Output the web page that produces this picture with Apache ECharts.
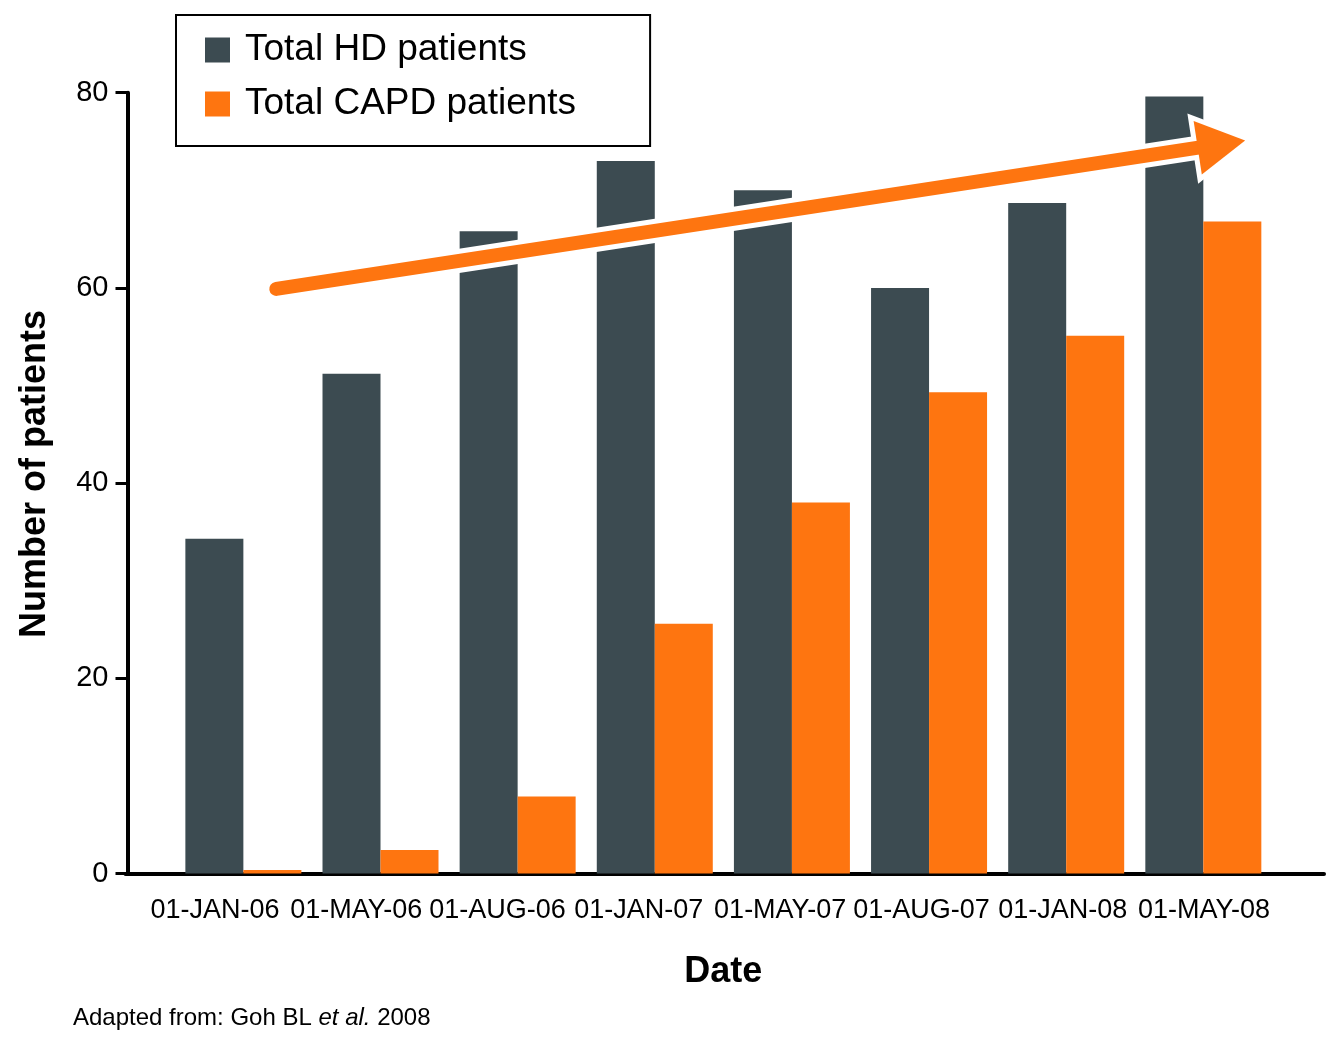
<!DOCTYPE html>
<html>
<head>
<meta charset="utf-8">
<script src="https://cdn.jsdelivr.net/npm/echarts@6/dist/echarts.min.js"></script>
<style>
html,body{margin:0;padding:0;background:#fff;}
#chart{width:1329px;height:1039px;}
</style>
</head>
<body>
<div id="chart"></div>
<script>
const categories = ['01-JAN-06','01-MAY-06','01-AUG-06','01-JAN-07','01-MAY-07','01-AUG-07','01-JAN-08','01-MAY-08'];
const hdPatients   = [34.3, 51.2, 65.8, 73.0, 70.0, 60.0, 68.7, 79.6];
const capdPatients = [0.35, 2.4, 7.9, 25.6, 38.0, 49.3, 55.1, 66.8];
const yTicks = [0, 20, 40, 60, 80];
// trend arrow annotation: [startIndex, startValue, endIndex, endValue]
const trendArrow = [[0.24, 59.9, 7.305, 75.1]];

const FONT = "'Liberation Sans', Arial, sans-serif";
const DARK = '#3c4b51';
const ORANGE = '#fe7510';

const chart = echarts.init(document.getElementById('chart'), null, {renderer: 'canvas'});

function renderArrow(params, api) {
  const p0 = api.coord([api.value(0), api.value(1)]);
  const p1 = api.coord([api.value(2), api.value(3)]);
  const dx = p1[0] - p0[0], dy = p1[1] - p0[1];
  const len = Math.sqrt(dx*dx + dy*dy);
  const ux = dx/len, uy = dy/len;
  const nx = -uy, ny = ux;
  const headLen = 48, halfW = 27;
  const base = [p1[0] - ux*headLen, p1[1] - uy*headLen];
  const shaftEnd = [base[0] + ux*4, base[1] + uy*4];
  const head = [p1, [base[0] + nx*halfW, base[1] + ny*halfW], [base[0] - nx*halfW, base[1] - ny*halfW]];
  return {
    type: 'group',
    children: [
      {type: 'polyline', shape: {points: [p0, shaftEnd]}, style: {stroke: '#fff', lineWidth: 24, lineCap: 'round', fill: null}},
      {type: 'polygon', shape: {points: head}, style: {fill: '#fff', stroke: '#fff', lineWidth: 10, lineJoin: 'miter'}},
      {type: 'polyline', shape: {points: [p0, shaftEnd]}, style: {stroke: ORANGE, lineWidth: 14, lineCap: 'round', fill: null}},
      {type: 'polygon', shape: {points: head}, style: {fill: ORANGE, stroke: null}}
    ]
  };
}

const option = {
  backgroundColor: '#fff',
  animation: false,
  textStyle: {fontFamily: FONT},
  legend: {
    left: 176, top: 15, orient: 'vertical',
    itemWidth: 25, itemHeight: 25, itemGap: 2,
    padding: [9, 74, 16, 29],
    borderColor: '#000', borderWidth: 2,
    backgroundColor: '#fff',
    icon: 'rect',
    textStyle: {fontSize: 37, lineHeight: 36, color: '#000', fontFamily: FONT, padding: [16, 0, 0, 10]},
    data: ['Total HD patients', 'Total CAPD patients']
  },
  grid: [
    {left: 174.8, right: 1329 - 1271.9, top: 92.7, bottom: 1039 - 873.5},
    {left: 144.4, right: 1329 - 1274.6, top: 92.7, bottom: 1039 - 873.5},
    {left: 125.5, right: 1329 - 1324, top: 92.7, bottom: 1039 - 873.5}
  ],
  xAxis: [
    {
      type: 'category', gridIndex: 0, data: categories,
      axisLine: {show: false}, axisTick: {show: false}, axisLabel: {show: false},
      name: 'Date', nameLocation: 'middle', nameGap: 81,
      nameTextStyle: {fontSize: 36, fontWeight: 'bold', color: '#000', fontFamily: FONT}
    },
    {type: 'value', gridIndex: 0, min: -0.5, max: 7.5, show: false},
    {
      type: 'category', gridIndex: 1, data: categories,
      axisLine: {show: false}, axisTick: {show: false},
      axisLabel: {interval: 0, fontSize: 27, color: '#000', margin: 24, fontFamily: FONT}
    },
    {
      type: 'value', gridIndex: 2, min: 0, max: 1,
      axisLine: {show: true, onZero: false, lineStyle: {color: '#000', width: 4}},
      axisTick: {show: false}, axisLabel: {show: false}, splitLine: {show: false}
    }
  ],
  yAxis: [
    {
      type: 'value', gridIndex: 0, min: yTicks[0], max: yTicks[yTicks.length - 1], interval: yTicks[1] - yTicks[0],
      offset: 174.8 - 127.5,
      axisLine: {show: true, onZero: false, lineStyle: {color: '#000', width: 4}},
      axisTick: {show: true, length: 12, lineStyle: {color: '#000', width: 3}},
      axisLabel: {fontSize: 29, color: '#000', margin: 19, fontFamily: FONT},
      splitLine: {show: false},
      name: 'Number of patients', nameLocation: 'middle', nameGap: 74, nameRotate: 90,
      nameTextStyle: {fontSize: 36, fontWeight: 'bold', color: '#000', fontFamily: FONT, padding: [0, 0, 0, 18]}
    },
    {type: 'value', gridIndex: 1, show: false},
    {type: 'value', gridIndex: 2, show: false}
  ],
  series: [
    {
      name: 'Total HD patients', type: 'bar', xAxisIndex: 0, yAxisIndex: 0,
      data: hdPatients, barWidth: 58, barGap: '0%',
      itemStyle: {color: DARK}
    },
    {
      name: 'Total CAPD patients', type: 'bar', xAxisIndex: 0, yAxisIndex: 0,
      data: capdPatients, barWidth: 58, barGap: '0%',
      itemStyle: {color: ORANGE}
    },
    {
      type: 'custom', xAxisIndex: 1, yAxisIndex: 0, z: 10,
      renderItem: renderArrow,
      encode: {x: [0, 2], y: [1, 3]},
      data: trendArrow,
      silent: true
    }
  ],
  graphic: [
    {
      type: 'text', left: 73, top: 1006,
      style: {
        text: '{n|Adapted from: Goh BL }{i|et al.}{n| 2008}',
        rich: {
          n: {fontSize: 24, fontFamily: FONT, fill: '#000'},
          i: {fontSize: 24, fontFamily: FONT, fontStyle: 'italic', fill: '#000'}
        }
      }
    }
  ]
};
chart.setOption(option);
</script>
</body>
</html>
